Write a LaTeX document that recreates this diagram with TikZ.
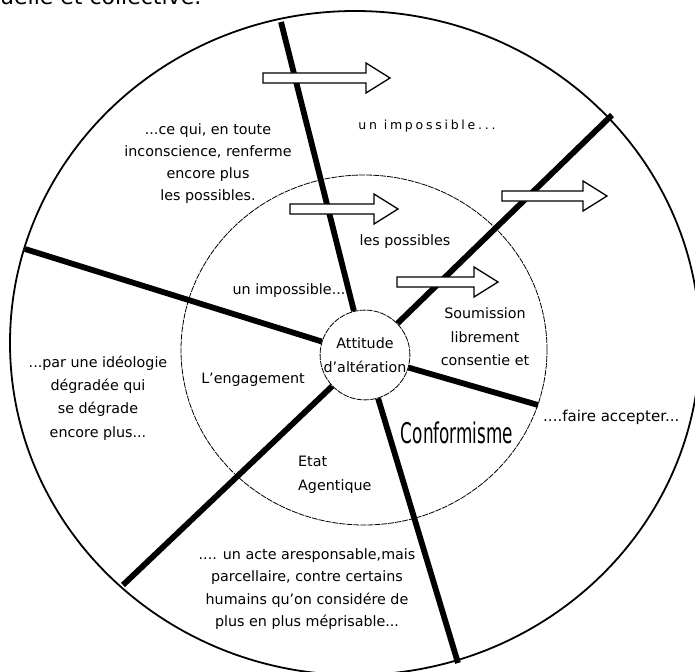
\documentclass[tikz,border=0pt]{standalone}
\usepackage{fontspec}
\setmainfont{DejaVu Sans}
\newfontfamily\spacedfont[LetterSpace=22]{DejaVu Sans}
\newcommand\blockarrow[3]{%
  \draw[arrowbox] (#1,#3-5) -- (#2-24,#3-5) -- (#2-24,#3-15) -- (#2,#3)
    -- (#2-24,#3+15) -- (#2-24,#3+5) -- (#1,#3+5) -- cycle;}
\begin{document}
\begin{tikzpicture}[x=1pt,y=-1pt,
  txt/.style={font=\fontsize{14.3}{22}\selectfont, align=center, inner sep=0pt},
  outerline/.style={line width=1.8pt},
  innerline/.style={line width=0.8pt, dash pattern=on 6pt off 1pt},
  divider/.style={line width=5.8pt},
  arrowbox/.style={draw, line width=1.3pt, fill=white, line join=miter}]
\useasboundingbox (0,0) rectangle (695,671);
\clip (0,0) rectangle (695,671);
\node[anchor=base west, font=\fontsize{22}{22}\selectfont, inner sep=0pt] (toptext) at (0,5) {uelle et collective.};
% circles
\draw[outerline] (355,343) ellipse [x radius=345pt, y radius=332pt];
\draw[innerline] (364,350) ellipse [x radius=183pt, y radius=175pt];
% end points of the dividers
\coordinate (o1) at (281,22);
\coordinate (o1b) at (458,663);
\coordinate (o2) at (612,115);
\coordinate (o2b) at (123,585);
\coordinate (o3) at (25,249);
\coordinate (fa) at (538,405);
% centre circle
\node[circle, draw, innerline, fill=white, minimum size=86pt, inner sep=0pt,
      font=\fontsize{14.3}{24}\selectfont, align=center] (att) at (365,355) {Attitude\\d'altération};
% dividers
\draw[divider] (o1) -- (att);
\draw[divider] (att) -- (o1b);
\draw[divider] (o2) -- (att);
\draw[divider] (att) -- (o2b);
\draw[divider] (o3) -- (att);
\draw[divider] (att) -- (fa);
% block arrows
\blockarrow{263}{390}{78}
\blockarrow{290}{398}{209}
\blockarrow{502}{607}{196}
\blockarrow{397}{498}{282}
% texts
\node[txt] (ceqi) at (208,164) {...ce qui, en toute\\inconscience, renferme\\encore plus\\les possibles.};
\node[txt, font=\spacedfont\fontsize{12.5}{14}\selectfont] (imp1) at (427,126) {un impossible...};
\node[txt] (poss) at (405,242) {les possibles};
\node[txt] (imp2) at (289,291) {un impossible...};
\node[txt, font=\fontsize{14.3}{23.5}\selectfont] (soum) at (485,337) {Soumission\\librement\\consentie et};
\node[txt] (eng) at (253,380) {L'engagement};
\node[txt, font=\fontsize{14.3}{23.3}\selectfont] (ideo) at (98,398) {...par une idéologie\\dégradée qui\\se dégrade\\encore plus...};
\node[inner sep=0pt] (conf) at (457,433) {\scalebox{0.59}[1]{\fontsize{28.5}{30}\selectfont Conformisme}};
\node[txt, anchor=west, font=\fontsize{15}{22}\selectfont] (faire) at (543,417) {....faire accepter...};
\node[txt, align=left, anchor=west, font=\fontsize{14.3}{24}\selectfont] (etat) at (298,475) {Etat\\Agentique};
\node[txt, font=\fontsize{14.3}{22.6}\selectfont] (acte) at (307,589) {.... un acte aresponsable,mais\\parcellaire, contre certains\\humains qu'on considére de\\plus en plus méprisable...};
\end{tikzpicture}
\end{document}
